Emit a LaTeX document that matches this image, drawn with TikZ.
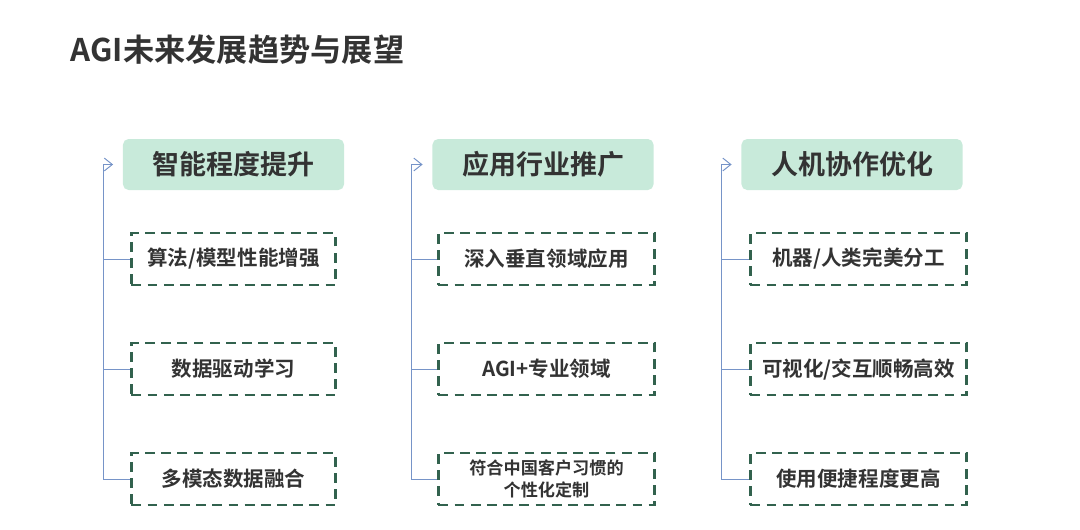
\documentclass[tikz,border=0pt]{standalone}
\usepackage{fontspec}
\setmainfont{Noto Sans CJK SC}[BoldFont={Noto Sans CJK SC Bold}]
\usetikzlibrary{arrows.meta, positioning, calc}
\usepackage{xcolor}
\definecolor{headgreen}{RGB}{200,234,218}
\definecolor{dashgreen}{RGB}{50,98,78}
\definecolor{linkblue}{RGB}{118,148,200}
\definecolor{txtgray}{RGB}{51,51,51}

\begin{document}
\begin{tikzpicture}[x=0.025cm, y=-0.025cm,
  head/.style={fill=headgreen, rounded corners=4pt, minimum width=5.525cm, minimum height=1.275cm,
    inner sep=0pt, text=txtgray, font=\fontsize{19.2pt}{22pt}\selectfont\bfseries},
  item/.style={draw=dashgreen, line width=2.1pt, dash pattern=on 7pt off 4.5pt, minimum width=5.1cm,
    minimum height=1.3cm, inner sep=0pt, align=center, text=txtgray, font=\fontsize{14.6pt}{18pt}\selectfont\bfseries},
  wideitem/.style={item, minimum width=5.4cm},
  link/.style={draw=linkblue, line width=0.7pt},
  arr/.style={link, -{Straight Barb[length=2mm, width=3.2mm]}, shorten >=2.4mm}]
  \useasboundingbox (0,0) rectangle (1080,529);
  \node[anchor=west, text=txtgray, font=\fontsize{22.2pt}{26pt}\selectfont\bfseries] (title) at (66,50) {AGI未来发展趋势与展望};
  % three columns: a header and three dashed items each
  \node[head] (h1) at (233.5,164.5) {智能程度提升};
  \node[head] (h2) at (543,164.5) {应用行业推广};
  \node[head] (h3) at (852,164.5) {人机协作优化};
  \node[item] (a1) at (233.5,259) {算法/模型性能增强};
  \node[item] (a2) at (233.5,369) {数据驱动学习};
  \node[item] (a3) at (233.5,479) {多模态数据融合};
  \node[wideitem] (b1) at (546.5,259) {深入垂直领域应用};
  \node[wideitem] (b2) at (546.5,369) {AGI+专业领域};
  \node[wideitem, font=\fontsize{12.2pt}{15.6pt}\selectfont\bfseries] (b3) at (546.5,479) {符合中国客户习惯的\\个性化定制};
  \node[wideitem] (c1) at (858.5,259) {机器/人类完美分工};
  \node[wideitem] (c2) at (858.5,369) {可视化/交互顺畅高效};
  \node[wideitem] (c3) at (858.5,479) {使用便捷程度更高};
  \coordinate (v1) at (103,0);
  \coordinate (v2) at (411,0);
  \coordinate (v3) at (721,0);
  \draw[arr] (a3.west) -- (a3.west -| v1) |- (h1.west);
  \draw[link] (a1.west) -- (a1.west -| v1);
  \draw[link] (a2.west) -- (a2.west -| v1);
  \draw[arr] (b3.west) -- (b3.west -| v2) |- (h2.west);
  \draw[link] (b1.west) -- (b1.west -| v2);
  \draw[link] (b2.west) -- (b2.west -| v2);
  \draw[arr] (c3.west) -- (c3.west -| v3) |- (h3.west);
  \draw[link] (c1.west) -- (c1.west -| v3);
  \draw[link] (c2.west) -- (c2.west -| v3);
\end{tikzpicture}
\end{document}
